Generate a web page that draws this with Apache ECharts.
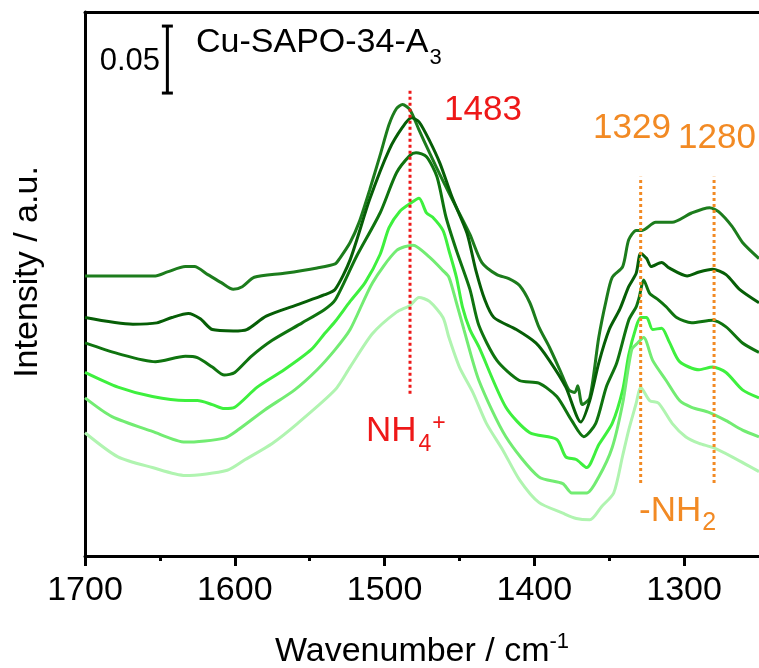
<!DOCTYPE html>
<html><head><meta charset="utf-8">
<script src="https://cdn.jsdelivr.net/npm/echarts@6/dist/echarts.min.js"></script>
<style>html,body{margin:0;padding:0;background:#fff}#c{width:759px;height:668px}</style>
</head><body><div id="c"></div>
<script>
// ---- data ----
const xTicks = [1700, 1600, 1500, 1400, 1300];
const xMinorTicks = [1650, 1550, 1450, 1350];
const seriesNames = ['Spectrum 1', 'Spectrum 2', 'Spectrum 3', 'Spectrum 4', 'Spectrum 5', 'Spectrum 6'];
const seriesColors = ['#1c7c1c', '#065e06', '#0f740f', '#3ef03e', '#72ec72', '#b0f4b0'];

const spectrum1 = [[1700,0.209],[1653,0.209],[1645,0.212],[1633,0.216],[1627,0.216],[1618,0.210],[1609,0.204],[1601,0.199],[1595,0.201],[1587,0.208],[1567,0.211],[1545,0.215],[1533,0.218],[1530,0.222],[1523,0.234],[1517,0.249],[1510,0.273],[1503,0.299],[1497,0.322],[1492,0.334],[1488,0.337],[1483,0.333],[1477,0.318],[1470,0.301],[1461,0.280],[1452,0.260],[1443,0.240],[1435,0.219],[1425,0.210],[1417,0.207],[1410,0.202],[1403,0.189],[1397,0.171],[1390,0.156],[1383,0.139],[1377,0.124],[1373,0.122],[1371,0.127],[1368,0.113],[1363,0.118],[1357,0.163],[1352,0.191],[1348,0.208],[1341,0.216],[1337,0.236],[1332,0.243],[1328,0.243],[1319,0.249],[1312,0.249],[1308,0.249],[1295,0.256],[1283,0.260],[1277,0.257],[1268,0.246],[1261,0.234],[1250,0.222]];
const spectrum2 = [[1700,0.178],[1668,0.173],[1652,0.174],[1642,0.178],[1631,0.181],[1623,0.177],[1615,0.169],[1601,0.168],[1592,0.169],[1579,0.179],[1557,0.188],[1540,0.195],[1533,0.199],[1523,0.221],[1510,0.266],[1497,0.303],[1488,0.320],[1482,0.327],[1477,0.324],[1470,0.310],[1463,0.293],[1455,0.268],[1445,0.241],[1439,0.213],[1433,0.191],[1427,0.178],[1412,0.169],[1399,0.159],[1390,0.146],[1379,0.126],[1369,0.100],[1363,0.116],[1357,0.144],[1350,0.169],[1343,0.184],[1337,0.201],[1332,0.211],[1329,0.226],[1325,0.222],[1322,0.216],[1315,0.219],[1310,0.215],[1298,0.209],[1290,0.212],[1281,0.214],[1272,0.210],[1263,0.199],[1250,0.189]];
const spectrum3 = [[1700,0.159],[1678,0.151],[1653,0.145],[1633,0.149],[1625,0.148],[1615,0.141],[1607,0.135],[1600,0.137],[1589,0.149],[1575,0.161],[1555,0.174],[1540,0.184],[1533,0.191],[1519,0.223],[1503,0.256],[1492,0.286],[1483,0.299],[1479,0.301],[1472,0.298],[1465,0.283],[1459,0.253],[1452,0.228],[1443,0.199],[1437,0.172],[1425,0.146],[1410,0.131],[1397,0.129],[1385,0.119],[1375,0.101],[1367,0.089],[1359,0.099],[1352,0.126],[1345,0.144],[1337,0.176],[1332,0.186],[1330,0.193],[1327,0.206],[1323,0.196],[1317,0.191],[1312,0.186],[1305,0.178],[1295,0.174],[1281,0.176],[1272,0.171],[1261,0.159],[1250,0.152]];
const spectrum4 = [[1700,0.137],[1678,0.126],[1655,0.119],[1633,0.116],[1625,0.116],[1615,0.113],[1607,0.110],[1600,0.111],[1585,0.126],[1567,0.139],[1549,0.154],[1540,0.166],[1533,0.175],[1523,0.190],[1513,0.204],[1503,0.225],[1497,0.245],[1490,0.257],[1483,0.263],[1477,0.267],[1472,0.256],[1468,0.253],[1461,0.243],[1457,0.228],[1452,0.208],[1448,0.186],[1443,0.169],[1437,0.156],[1419,0.111],[1403,0.092],[1385,0.087],[1379,0.074],[1372,0.072],[1365,0.066],[1357,0.083],[1348,0.099],[1341,0.124],[1337,0.150],[1332,0.171],[1329,0.178],[1325,0.178],[1321,0.169],[1315,0.170],[1310,0.160],[1303,0.145],[1290,0.139],[1281,0.141],[1272,0.137],[1261,0.124],[1250,0.118]];
const spectrum5 = [[1700,0.118],[1682,0.104],[1655,0.093],[1633,0.085],[1607,0.088],[1598,0.094],[1580,0.109],[1560,0.124],[1545,0.139],[1533,0.154],[1523,0.169],[1508,0.204],[1492,0.228],[1481,0.232],[1470,0.223],[1461,0.213],[1457,0.208],[1452,0.189],[1447,0.169],[1437,0.131],[1419,0.089],[1397,0.059],[1381,0.054],[1375,0.047],[1365,0.047],[1357,0.059],[1348,0.081],[1341,0.114],[1335,0.154],[1331,0.159],[1327,0.163],[1321,0.146],[1312,0.131],[1303,0.116],[1295,0.111],[1283,0.107],[1272,0.101],[1261,0.094],[1250,0.089]];
const spectrum6 = [[1700,0.092],[1678,0.074],[1655,0.066],[1633,0.060],[1605,0.064],[1593,0.072],[1575,0.084],[1558,0.099],[1533,0.124],[1523,0.141],[1508,0.166],[1492,0.182],[1483,0.187],[1477,0.193],[1470,0.190],[1461,0.178],[1457,0.163],[1450,0.141],[1441,0.122],[1432,0.099],[1421,0.079],[1410,0.057],[1397,0.040],[1381,0.032],[1372,0.028],[1363,0.027],[1355,0.037],[1347,0.047],[1341,0.075],[1337,0.094],[1332,0.114],[1329,0.126],[1323,0.116],[1317,0.114],[1308,0.099],[1299,0.089],[1290,0.084],[1281,0.081],[1268,0.074],[1250,0.063]];
const spectra = [spectrum1, spectrum2, spectrum3, spectrum4, spectrum5, spectrum6];

// marker lines: wavenumber, lower and upper intensity
const markerWavenumbers = [1483, 1329, 1280];
const markerLow = [0.121, 0.0545, 0.0545];
const markerHigh = [0.349, 0.283, 0.283];
const markerColors = ['#ee1818', '#f28a24', '#f28a24'];
// scale bar (0.05 a.u.)
const scaleBarX = 1645;
const scaleBarLow = 0.3455;
const scaleBarLen = 0.05;

// ---- chart ----
const FONT = '"Liberation Sans", Arial, sans-serif';
const chart = echarts.init(document.getElementById('c'), null, {renderer: 'canvas'});
const series = [];
spectra.forEach((d, i) => {
  series.push({
    name: seriesNames[i], type: 'line', data: d, showSymbol: false, symbol: 'none',
    smooth: 0.25, lineStyle: {color: seriesColors[i], width: 3}, itemStyle: {color: seriesColors[i]},
    z: 3 + i, silent: true
  });
});
markerWavenumbers.forEach((w, i) => {
  series.push({
    type: 'line', data: [[w, markerLow[i]], [w, markerHigh[i]]], symbol: 'none',
    lineStyle: {color: markerColors[i], width: 3, type: [3, 3]}, z: 10, silent: true
  });
});
series.push({
  type: 'line', data: [[scaleBarX, scaleBarLow], [scaleBarX, scaleBarLow + scaleBarLen]],
  symbol: 'rect', symbolSize: [11, 3], showSymbol: true,
  lineStyle: {color: '#000', width: 3}, itemStyle: {color: '#000'}, z: 10, silent: true
});

const mctx = document.createElement('canvas').getContext('2d');
function textWidth(t, size) { mctx.font = size + 'px ' + FONT; return mctx.measureText(t).width; }
function txt(text, x, y, size, color, align) {
  return {type: 'text', x: x, y: y, z: 100, silent: true,
    style: {text: text, fill: color, font: size + 'px ' + FONT,
      align: align || 'left', verticalAlign: 'middle', textAlign: align || 'left', textVerticalAlign: 'middle'}};
}
const RED = '#ee1818', ORANGE = '#f28a24';
const graphics = [];
graphics.push(txt('0.05', 160, 61, 31, '#000', 'right'));
// title with subscript
const tW = textWidth('Cu-SAPO-34-A', 34);
graphics.push(txt('Cu-SAPO-34-A', 196, 43, 34, '#000'));
graphics.push(txt('3', 196 + tW + 1, 58, 22, '#000'));
graphics.push(txt('1483', 444, 110, 35, RED));
graphics.push(txt('1329', 593, 128, 35, ORANGE));
graphics.push(txt('1280', 678, 138, 35, ORANGE));
// NH4+
const nW = textWidth('NH', 35);
const fourW = textWidth('4', 23);
graphics.push(txt('NH', 366, 431, 35, RED));
graphics.push(txt('4', 366 + nW + 2, 445, 23, RED));
graphics.push(txt('+', 366 + nW + 2 + fourW + 1, 424, 23, RED));
// -NH2
const mW = textWidth('-NH', 35);
graphics.push(txt('-NH', 639, 511, 35, ORANGE));
graphics.push(txt('2', 639 + mW + 1, 523, 25, ORANGE));

chart.setOption({
  animation: false,
  backgroundColor: '#fff',
  grid: {left: 85, right: 0, top: 12, bottom: 112, containLabel: false, outerBoundsMode: 'none'},
  xAxis: [{
    type: 'value', min: 1250, max: 1700, inverse: true, position: 'bottom',
    name: '{a|Wavenumber / cm}{b|-1}', nameLocation: 'middle', nameGap: 75,
    nameTextStyle: {rich: {
      a: {fontSize: 34, fontFamily: FONT, color: '#000', lineHeight: 38, verticalAlign: 'bottom'},
      b: {fontSize: 22, fontFamily: FONT, color: '#000', lineHeight: 22, verticalAlign: 'top'}}},
    axisLine: {show: true, onZero: false, lineStyle: {color: '#000', width: 3}},
    axisTick: {show: true, inside: false, length: 10, lineStyle: {color: '#000', width: 3}, customValues: xTicks},
    axisLabel: {show: true, margin: 18, fontSize: 34, fontFamily: FONT, color: '#000', customValues: xTicks,
      formatter: v => String(v)},
    splitLine: {show: false}
  }, {
    type: 'value', min: 1250, max: 1700, inverse: true, position: 'bottom',
    axisLine: {show: false},
    axisTick: {show: true, inside: false, length: 5, lineStyle: {color: '#000', width: 3}, customValues: xMinorTicks},
    axisLabel: {show: false}, splitLine: {show: false}
  }, {
    type: 'value', min: 1250, max: 1700, inverse: true, position: 'top',
    axisLine: {show: true, onZero: false, lineStyle: {color: '#000', width: 3}},
    axisTick: {show: false}, axisLabel: {show: false}, splitLine: {show: false}
  }],
  yAxis: {
    type: 'value', min: 0, max: 0.406,
    name: 'Intensity / a.u.', nameLocation: 'middle', nameGap: 40, nameRotate: 90,
    nameTextStyle: {fontSize: 34, fontFamily: FONT, color: '#000', padding: [0, 0, 0, 24]},
    axisLine: {show: true, onZero: false, lineStyle: {color: '#000', width: 3}},
    axisTick: {show: false}, axisLabel: {show: false}, splitLine: {show: false}
  },
  series: series,
  graphic: graphics
});
</script></body></html>
